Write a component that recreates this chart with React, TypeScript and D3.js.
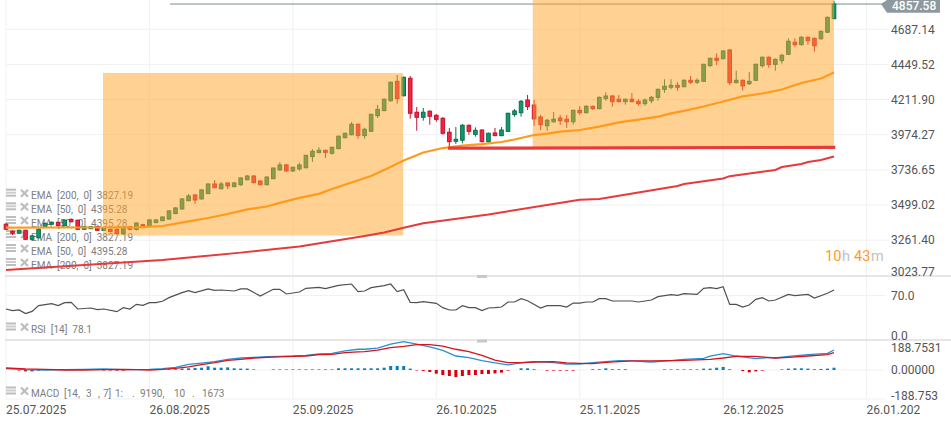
import React from "react";
import * as d3 from "d3";

const W = 951, H = 425;

const opens = [3369,3321,3308,3328,3267,3278,3352,3369,3382,3359,3402,3396,3335,3339,3352,3328,3335,3335,3305,3352,3334,3366,3357,3380,3393,3404,3441,3472,3528,3567,3540,3576,3641,3609,3648,3623,3636,3670,3695,3661,3636,3677,3736,3770,3729,3743,3751,3826,3853,3869,3849,3880,3954,3974,4045,3968,3997,4103,4137,4204,4335,4238,4356,4126,4092,4133,4105,4085,3991,3930,3937,4038,3977,4006,3927,3986,3968,3997,4110,4123,4209,4175,4094,4035,4062,4087,4079,4062,4139,4123,4166,4150,4218,4236,4214,4198,4214,4200,4184,4204,4227,4281,4295,4308,4299,4342,4329,4335,4441,4491,4488,4547,4326,4342,4319,4342,4441,4498,4450,4475,4518,4599,4583,4633,4626,4623,4667,4759];
const closes = [3335,3308,3328,3267,3290,3335,3375,3382,3359,3396,3386,3335,3352,3352,3328,3342,3319,3305,3348,3335,3377,3362,3398,3398,3418,3459,3479,3540,3560,3533,3601,3641,3616,3641,3628,3648,3682,3695,3650,3636,3688,3749,3770,3729,3754,3770,3835,3862,3869,3855,3889,3964,3984,4045,3970,4011,4112,4146,4214,4329,4218,4362,4119,4092,4126,4099,4078,3984,3927,3943,4038,3997,4004,3927,3984,3968,4006,4119,4135,4200,4164,4081,4042,4072,4079,4069,4062,4139,4123,4166,4150,4227,4236,4198,4198,4214,4198,4184,4209,4227,4281,4302,4308,4295,4342,4329,4342,4450,4491,4477,4540,4326,4342,4304,4335,4450,4498,4448,4484,4511,4606,4583,4633,4610,4576,4673,4768,4858];
const highs = [3378,3328,3332,3332,3295,3342,3380,3388,3386,3400,3408,3400,3357,3356,3357,3346,3340,3340,3352,3356,3382,3372,3402,3402,3422,3463,3484,3544,3574,3571,3606,3646,3668,3655,3652,3655,3686,3702,3702,3665,3692,3753,3788,3776,3758,3785,3839,3876,3889,3873,3893,3968,3988,4060,4051,4022,4116,4175,4218,4333,4378,4368,4371,4162,4155,4139,4114,4094,4020,4026,4047,4043,4024,4011,3988,4020,4026,4123,4148,4209,4243,4209,4108,4081,4128,4108,4108,4145,4168,4175,4172,4232,4261,4243,4243,4219,4256,4216,4219,4236,4287,4349,4349,4329,4349,4371,4356,4454,4495,4525,4547,4554,4407,4348,4398,4456,4503,4503,4490,4522,4626,4626,4642,4638,4631,4679,4773,4880];
const lows = [3330,3296,3305,3262,3258,3272,3348,3365,3355,3355,3382,3330,3330,3335,3324,3324,3315,3300,3300,3328,3326,3360,3352,3376,3390,3400,3437,3468,3524,3506,3536,3572,3612,3605,3607,3619,3628,3666,3645,3632,3632,3673,3732,3725,3722,3731,3747,3790,3849,3817,3839,3876,3950,3970,3947,3947,3993,4087,4133,4197,4184,4232,4083,4001,4069,4042,4062,3974,3889,3912,3916,3974,3961,3922,3922,3964,3964,3993,4096,4096,4141,4035,4006,4001,4055,4040,4020,4042,4108,4118,4141,4146,4204,4164,4192,4177,4192,4170,4170,4187,4204,4258,4281,4272,4294,4317,4317,4331,4434,4444,4484,4308,4321,4272,4310,4337,4427,4427,4407,4454,4513,4569,4577,4583,4536,4618,4662,4755];

const ema50Idx = [0,10,20,24,28,31,34,37,40,42,45,48,50,53,56,58,61,64,67,70,73,76,78,81,83,85,88,91,94,97,100,102,104,107,110,113,116,119,122,125,127];
const ema50Val = [3346,3347,3348,3357,3388,3411,3438,3469,3489,3513,3547,3574,3607,3651,3695,3736,3800,3854,3884,3901,3911,3925,3942,3972,3981,3995,4006,4029,4058,4076,4096,4118,4135,4165,4199,4233,4253,4280,4324,4354,4395];
const ema200Idx = [0,6,12,24,36,45,55,58,61,64,74,88,91,103,104,110,111,118,119,122,123,125,127];
const ema200Val = [3060,3077,3093,3127,3177,3219,3290,3313,3345,3376,3435,3534,3540,3628,3641,3678,3694,3736,3756,3776,3790,3803,3827];
const supportIdx = [67.8,127.2];
const supportVal = [3883,3889];

const zoneA = { from: 14.88, to: 60.92, top: 4392, bottom: 3292 };
const zoneB = { from: 80.8, to: 127.0, top: 4885, bottom: 3891 };

const rsiIdx = [0,1,2,3,4,5,7,8,9,10,11,13,14,15,17,18,19,20,21,22,23,24,25,27,28,29,31,32,33,35,36,37,39,41,42,43,45,46,48,49,51,53,54,55,56,58,59,60,61,62,63,64,66,67,68,69,70,71,72,73,74,75,76,77,78,79,80,82,83,85,86,87,88,89,90,91,92,93,96,97,99,100,102,103,104,106,107,108,109,110,111,112,113,114,115,116,117,118,120,121,123,124,126,127];
const rsiVal = [48.4,45.7,46.8,40.9,44.6,53.8,57,53.8,58.6,59.1,48.4,50,47.3,48.4,44.1,50.5,48.4,55.9,54.3,58.6,58.6,60.8,66.7,74.7,78,74.7,80.7,78.5,79,77.4,80.7,80.7,69.4,80.1,80.1,72.6,75.8,81.7,83.3,81.2,86.6,88.7,76.4,77.4,82.8,86,88.7,76.4,79.6,59.2,58.6,60.2,57.5,50.5,46.8,46.8,53.8,50.5,50.5,45.7,50,50.5,51.6,59.7,59.7,65,61.8,50,53.8,53.8,51.6,58,58,59.7,59.7,65,65,61.3,61.3,59.7,62.9,68.3,71.5,70.4,73.1,72,81.7,82.8,81.2,84.4,55.9,55.9,51.6,54.9,64,66.7,61.3,62.9,72,69.9,72,66.1,73.7,79];

const macdIdx = [0,3,6,9,12,15,18,20,22,24,26,28,30,32,34,36,38,40,42,44,46,48,50,52,54,55,57,59,61,63,65,67,69,71,73,75,77,79,81,84,86,88,90,92,94,96,99,102,104,107,108,110,112,115,117,118,120,123,126,127];
const macdVal = [9,2,0,2,4,7,2,2,4,9,17,37,45,54,69,78,82,87,89,91,95,104,108,124,135,135,143,169,184,169,150,128,91,80,61,46,33,46,54,48,39,39,48,54,61,59,52,61,69,76,91,106,91,74,82,78,89,100,108,130];
const signalVal = [13,7,4,0,0,2,4,2,0,4,11,20,35,48,63,69,78,82,85,89,91,100,102,113,118,119,130,145,154,165,165,156,135,119,95,65,48,48,52,54,46,43,41,50,55,59,59,61,63,67,69,78,89,89,80,78,82,91,100,113];
const histVal = [0,0,-3,-9,-9,-4,0,0,0,0,0,0,0,0,0,-3,-3,-4,-4,0,0,0,0,0,0,5,5,9,11,13,15,24,15,15,17,11,9,9,4,0,0,4,4,4,4,4,4,4,4,4,4,11,11,11,11,11,11,11,15,26,26,26,9,-3,-6,-13,-24,-33,-39,-46,-39,-33,-33,-26,-26,-22,-17,-4,0,11,11,5,0,-4,-4,-4,-4,-4,0,0,5,5,11,5,5,5,0,0,0,0,0,4,4,4,4,4,4,9,9,15,20,5,0,-7,-15,-9,-4,0,0,4,9,11,11,9,5,7,9,15];

const priceTicks = [4687.14,4449.52,4211.9,3974.27,3736.65,3499.02,3261.4,3023.77];
const priceTickLabels = ["4687.14","4449.52","4211.90","3974.27","3736.65","3499.02","3261.40","3023.77"];
const dateTickIdx = [0,22,44,66,88,110,132];
const dateTickLabels = ["25.07.2025","26.08.2025","25.09.2025","26.10.2025","25.11.2025","26.12.2025","26.01.202"];
const lastPrice = 4857.58;

const legendRows = ["EMA  [200,  0]  3827.19","EMA  [50,  0]  4395.28","EMA  [50,  0]  4395.28","EMA  [200,  0]  3827.19","EMA  [50,  0]  4395.28","EMA  [200,  0]  3827.19"];
const rsiLegend = "RSI  [14]  78.1";
const macdLegendParts = ["MACD", "[14,", "3", ",", "7]", "1:", ".", "9190,", "10", ".", "1673"];

const x = d3.scaleLinear().domain([0, 132]).range([6, 866.6]);
const y = d3.scaleLinear().domain([4885, 3000]).range([0, 278.8]);
const yRsi = d3.scaleLinear().domain([0, 100]).range([339, 277]);
const yMacd = d3.scaleLinear().domain([-188.753, 188.753]).range([399, 341]);

const FONT = "Roboto, Arial, sans-serif";
const GRID = "#f1f1f1";
const UP = "#109a6c", UPB = "#0b6e4d", DN = "#f4233f", DNB = "#bf1530";
const ORANGE = "#ff9a1c", RED = "#e63a3c";

function Icons({ cy }: { cy: number }) {
  return (
    <g>
      {[-6, -3, 0].map((d) => (
        <rect key={d} x={6} y={cy + d - 1} width={10} height={2} fill={d === -3 ? "#ccc" : "#bdbdbd"} />
      ))}
      <path d={`M21 ${cy - 6}L28 ${cy + 1}M28 ${cy - 6}L21 ${cy + 1}`} stroke="#bdbdbd" strokeWidth={2.2} />
    </g>
  );
}

function Legend({ text, cy }: { text: string; cy: number }) {
  return (
    <g>
      <Icons cy={cy} />
      <text x={31} y={cy + 3.6} fontSize={10} fill="#7d7d7d" fontFamily={FONT} style={{ whiteSpace: "pre" }}>{text}</text>
    </g>
  );
}

export default function App() {
  const n = opens.length;
  const pick = (idx: number[], val: number[]) => idx.map((d, i) => [d, val[i]] as [number, number]);
  const line = d3.line<[number, number]>().x((d) => x(d[0])).y((d) => y(d[1]));
  const lineRsi = d3.line<[number, number]>().x((d) => x(d[0])).y((d) => yRsi(d[1]));
  const lineMacd = d3.line<[number, number]>().x((d) => x(d[0])).y((d) => yMacd(d[1]));
  const legendY = [195.7, 209.3, 223, 237, 251, 265];
  const macdPartX = [31, 64, 86, 98, 103, 115, 132, 140, 174, 192, 202];

  return (
    <svg width={W} height={H} viewBox={`0 0 ${W} ${H}`} style={{ position: "absolute", left: 0, top: 0, background: "#fff" }}>
      {/* grid */}
      {dateTickIdx.map((d) => (
        <line key={d} x1={x(d)} x2={x(d)} y1={0} y2={399} stroke={GRID} />
      ))}
      {priceTicks.slice(0, 7).map((v) => (
        <line key={v} x1={6} x2={889} y1={y(v)} y2={y(v)} stroke={GRID} />
      ))}
      <line x1={6} x2={885} y1={yRsi(70)} y2={yRsi(70)} stroke={GRID} />
      <line x1={6} x2={885} y1={yMacd(0)} y2={yMacd(0)} stroke={GRID} />
      <line x1={6} x2={885} y1={399} y2={399} stroke={GRID} />
      <line x1={5} x2={W} y1={276} y2={276} stroke="#dedede" strokeWidth={1.5} />
      <line x1={5} x2={W} y1={340} y2={340} stroke="#dedede" strokeWidth={1.5} />
      <rect x={477} y={275} width={10} height={3} fill="#c8c8c8" />
      <rect x={477} y={339.5} width={10} height={3} fill="#c8c8c8" />

      {/* last-price line */}
      <line x1={170} x2={882} y1={y(lastPrice)} y2={y(lastPrice)} stroke="#7f8c8d" strokeWidth={1} />

      {/* legends */}
      {legendRows.map((t, i) => (
        <Legend key={i} text={t} cy={legendY[i]} />
      ))}
      <Legend text={rsiLegend} cy={329.5} />
      <Icons cy={393.5} />
      <g fontSize={10} fill="#7d7d7d" fontFamily={FONT}>
        {macdLegendParts.map((t, i) => (
          <text key={i} x={macdPartX[i]} y={397}>{t}</text>
        ))}
      </g>

      {/* candles */}
      {d3.range(n).map((i) => {
        const up = closes[i] >= opens[i];
        const t = y(Math.max(opens[i], closes[i]));
        const b = y(Math.min(opens[i], closes[i]));
        const cx = x(i);
        return (
          <g key={i}>
            <line x1={cx} x2={cx} y1={y(highs[i])} y2={y(lows[i])} stroke={up ? UPB : DNB} />
            <rect x={cx - 1.8} y={t} width={3.6} height={Math.max(b - t, 1)} fill={up ? UP : DN} stroke={up ? UPB : DNB} strokeWidth={1} />
          </g>
        );
      })}

      {/* zones */}
      {[zoneA, zoneB].map((z, i) => (
        <rect key={i} x={x(z.from)} y={y(z.top)} width={x(z.to) - x(z.from)} height={y(z.bottom) - y(z.top)} fill="rgba(255,165,40,0.5)" />
      ))}

      {/* overlays */}
      <path d={line(pick(ema200Idx, ema200Val)) ?? ""} fill="none" stroke={RED} strokeWidth={2} />
      <path d={line(pick(ema50Idx, ema50Val)) ?? ""} fill="none" stroke={ORANGE} strokeWidth={2.2} />
      <path d={line(pick(supportIdx, supportVal)) ?? ""} fill="none" stroke={RED} strokeWidth={3.2} />

      {/* RSI */}
      <path d={lineRsi(pick(rsiIdx, rsiVal)) ?? ""} fill="none" stroke="#4d5154" strokeWidth={1.2} />

      {/* MACD */}
      {histVal.map((v, i) =>
        v === 0 ? null : (
          <rect key={i} x={x(i) - 1.5} y={Math.min(yMacd(v), yMacd(0))} width={3} height={Math.abs(yMacd(v) - yMacd(0))} fill={v > 0 ? "#0b7cc4" : "#d8000f"} />
        )
      )}
      <path d={lineMacd(pick(macdIdx, macdVal)) ?? ""} fill="none" stroke="#2a90d2" strokeWidth={1.3} />
      <path d={lineMacd(pick(macdIdx, signalVal)) ?? ""} fill="none" stroke="#d5141f" strokeWidth={1.3} />

      {/* axis labels */}
      <g fontFamily={FONT} fontSize={12} fill="#555">
        {priceTicks.map((v, i) => (
          <text key={v} x={891} y={Math.min(y(v), 271.5) + 4.3}>{priceTickLabels[i]}</text>
        ))}
        <text x={891} y={299.5}>70.0</text>
        <text x={891} y={339.5}>0.0</text>
        <text x={891} y={352}>188.7531</text>
        <text x={891} y={374.3}>0.00000</text>
        <text x={891} y={400}>-188.753</text>
        {dateTickIdx.map((d, i) => (
          <text key={d} x={x(d)} y={413.5}>{dateTickLabels[i]}</text>
        ))}
      </g>

      {/* last price tag */}
      <path d={`M881 ${y(lastPrice)}L887 0H940V12.7H887Z`} fill="#8e999f" />
      <text x={892} y={9.8} fontFamily={FONT} fontSize={12} fontWeight={500} fill="#fff">4857.58</text>

      {/* countdown */}
      <text y={261} fontFamily={FONT} fontSize={14.5}>
        <tspan x={825} fill={ORANGE}>10</tspan>
        <tspan x={842} fill="#c2c2c2">h</tspan>
        <tspan x={854} fill={ORANGE}>43</tspan>
        <tspan x={871} fill="#c2c2c2">m</tspan>
      </text>
    </svg>
  );
}
